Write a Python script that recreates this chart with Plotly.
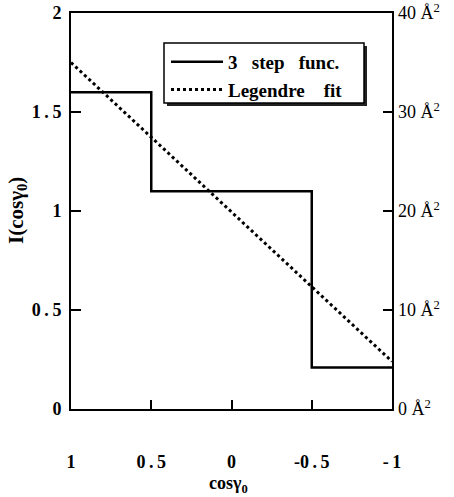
import plotly.graph_objects as go

# data
step_x = [1, 0.5, -0.5, -1]
step_y = [1.6, 1.1, 0.21, 0.21]
fit_x = [1, -1]
fit_y = [1.75, 0.24]
x_tickvals = [1, 0.5, 0, -0.5, -1]
x_ticktext = ["1", "0\u2009.\u20095", "0", "-0\u2009.\u20095", "-\u20091"]
y_tickvals = [0, 0.5, 1, 1.5, 2]
y_ticktext = ["0", "0\u2009.\u20095", "1", "1\u2009.\u20095", "2"]
y2_tickvals = [0, 10, 20, 30, 40]
y2_ticktext = ["0 Å<sup>2</sup>", "10 Å<sup>2</sup>", "20 Å<sup>2</sup>", "30 Å<sup>2</sup>", "40 Å<sup>2</sup>"]
series_names = ["3\u00a0\u00a0\u00a0step\u00a0\u00a0\u00a0func.", "Legendre\u00a0\u00a0\u00a0\u00a0fit"]
x_title = "cosγ<sub>0</sub>"
y_title = "I(cosγ<sub>0</sub>)"

W, H = 454, 497
L, R, T, B = 71, 62, 13, 88
pw, ph = W - L - R, H - T - B

def px(x):
    return (x - L) / pw

def py(y):
    return (H - B - y) / ph

serif = "Liberation Serif"

fig = go.Figure()
fig.add_trace(go.Scatter(x=step_x, y=step_y, mode="lines", line_shape="hv",
                         line=dict(color="black", width=2.5), name=series_names[0]))
fig.add_trace(go.Scatter(x=fit_x, y=fit_y, mode="lines",
                         line=dict(color="black", width=3, dash="dot"), name=series_names[1]))
fig.add_trace(go.Scatter(x=[None], y=[None], yaxis="y2", showlegend=False))

shapes = [
    dict(type="rect", xref="paper", yref="paper", x0=px(167), x1=px(367), y0=py(106), y1=py(46),
         fillcolor="#222", line=dict(width=0), layer="above"),
    dict(type="rect", xref="paper", yref="paper", x0=px(164), x1=px(364), y0=py(103), y1=py(43),
         fillcolor="white", line=dict(color="black", width=1.5), layer="above"),
]

annotations = [
    dict(text=x_title, xref="paper", yref="paper", x=px(228), y=py(484), xanchor="center",
         yanchor="middle", showarrow=False, font=dict(family=serif, size=18, weight="bold")),
    dict(text=y_title, xref="paper", yref="paper", x=px(17), y=py(211), xanchor="center",
         yanchor="middle", showarrow=False, textangle=-90,
         font=dict(family=serif, size=21, weight="bold")),
]

fig.update_layout(
    width=W, height=H,
    margin=dict(l=L, r=R, t=T, b=B),
    paper_bgcolor="white", plot_bgcolor="white",
    font=dict(family=serif, color="black", size=18),
    shapes=shapes,
    annotations=annotations,
    showlegend=True,
    legend=dict(x=px(166), y=py(43), xanchor="left", yanchor="top",
                bgcolor="rgba(0,0,0,0)", borderwidth=0,
                font=dict(family=serif, size=19, color="black", weight="bold"),
                itemwidth=52, tracegroupgap=0),
    xaxis=dict(range=[1, -1], tickvals=x_tickvals, ticktext=x_ticktext,
               ticks="inside", ticklen=9, tickwidth=2, tickcolor="black",
               showline=True, linecolor="black", linewidth=2, mirror=True,
               showgrid=False, zeroline=False, automargin=False,
               ticklabelstandoff=35,
               tickfont=dict(family=serif, size=18, weight="bold")),
    yaxis=dict(range=[0, 2], tickvals=y_tickvals, ticktext=y_ticktext,
               ticks="inside", ticklen=10, tickwidth=2, tickcolor="black",
               showline=True, linecolor="black", linewidth=2, mirror=True,
               showgrid=False, zeroline=False, automargin=False,
               ticklabelstandoff=4,
               tickfont=dict(family=serif, size=18, weight="bold")),
    yaxis2=dict(range=[0, 40], overlaying="y", side="right", tickvals=y2_tickvals,
                ticktext=y2_ticktext, ticks="inside", ticklen=9, tickwidth=2, tickcolor="black",
                showline=False, showgrid=False, zeroline=False, automargin=False,
                ticklabelstandoff=5,
                tickfont=dict(family=serif, size=18)),
)

fig.write_html("out.html", config={"displayModeBar": False},
               post_script="document.body.style.margin='0';document.body.style.overflow='hidden';")
